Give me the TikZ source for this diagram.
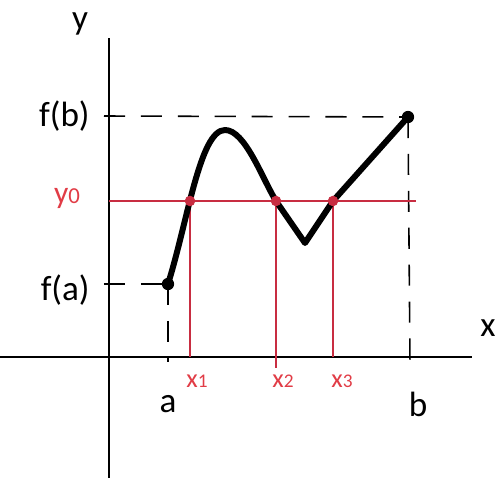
\documentclass[tikz,border=0pt]{standalone}
\usepackage{fontspec}
\setmainfont{Carlito}
\usepackage{tikz}
\usetikzlibrary{positioning}
\definecolor{figred}{RGB}{200,45,65}
\definecolor{figtext}{RGB}{225,60,70}
\tikzset{
  figaxis/.style={line width=0.9pt, black},
  figdash/.style={line width=0.9pt, dash pattern=on 12pt off 9pt},
  figred/.style={line width=0.8pt, draw=figred},
  figcurve/.style={line width=3.4pt, line join=round, line cap=round},
  figlabel/.style={font=\fontsize{20}{22}\selectfont, inner sep=0pt},
  figsub/.style={font=\fontsize{18}{20}\selectfont, text=figtext, inner sep=0pt},
  figdot/.style={circle, fill=figred, inner sep=0pt, minimum size=6pt},
  figend/.style={circle, fill=black, inner sep=0pt, minimum size=7pt},
}

\begin{document}
\begin{tikzpicture}[x=0.2mm, y=-0.2mm]
  \useasboundingbox (0,0) rectangle (498,478);
  % axes
  \coordinate (ytop) at (109,38);
  \coordinate (ybot) at (109,478);
  \coordinate (xleft) at (0,357);
  \coordinate (xright) at (472,357);
  \draw[figaxis] (ybot) -- (ytop);
  \draw[figaxis] (xleft) -- (xright);
  % points of the graph
  \coordinate (A) at (168,284);
  \coordinate (B) at (408,117);
  \coordinate (peak) at (225,130);
  \coordinate (dip) at (305,243);
  \coordinate (P1) at (190,201);
  \coordinate (P2) at (276,201);
  \coordinate (P3) at (333,201);
  % dashed guides
  \draw[figdash] (104,116) -- (B);
  \draw[figdash] (104,284) -- (A);
  \draw[figdash] (A) -- (168,362);
  \draw[figdash] (B) -- (410,364);
  % level y0
  \draw[figred] (109,201) -- (416,201);
  \draw[figred] (P1) -- (190,357);
  \draw[figred] (P2) -- (276,368);
  \draw[figred] (P3) -- (333,357);
  % graph of f
  \draw[figcurve] (A) .. controls (188,220) and (200,130) .. (peak)
    .. controls (245,130) and (262,178) .. (P2) -- (dip) -- (P3) -- (B);
  \node[figend] (Adot) at (A) {};
  \node[figend] (Bdot) at (B) {};
  \node[figdot] (P1dot) at (P1) {};
  \node[figdot] (P2dot) at (P2) {};
  \node[figdot] (P3dot) at (P3) {};
  % labels
  \node[figlabel] (ylab) at (80,24) {y};
  \node[figlabel] (xlab) at (488,328) {x};
  \node[figlabel, anchor=east] (fblab) at (90,116) {f(b)};
  \node[figlabel, anchor=east] (falab) at (90,290) {f(a)};
  \node[figsub] (y0lab) at (67,198) {y{\fontsize{13}{13}\selectfont 0}};
  \node[figlabel] (alab) at (168,404) {a};
  \node[figlabel] (blab) at (418,404) {b};
  \node[figsub, font=\fontsize{15}{17}\selectfont] (x1lab) at (197,381) {x{\fontsize{11}{11}\selectfont 1}};
  \node[figsub, font=\fontsize{15}{17}\selectfont] (x2lab) at (283,381) {x{\fontsize{11}{11}\selectfont 2}};
  \node[figsub, font=\fontsize{15}{17}\selectfont] (x3lab) at (342,381) {x{\fontsize{11}{11}\selectfont 3}};
\end{tikzpicture}
\end{document}
